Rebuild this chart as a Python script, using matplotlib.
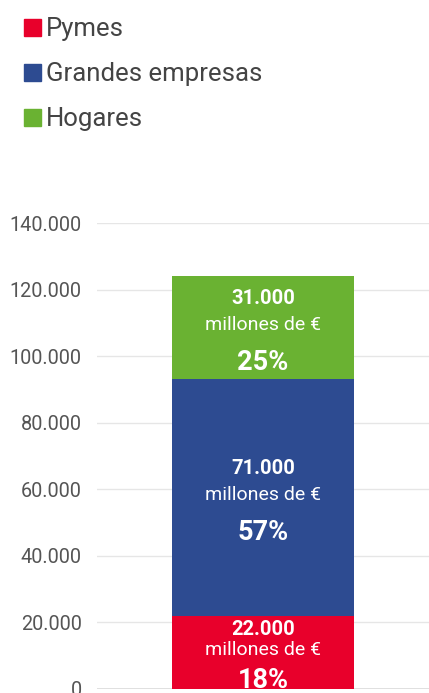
import matplotlib.pyplot as plt
from matplotlib.patches import Patch

plt.rcParams['font.family'] = ['Roboto', 'DejaVu Sans']

segments = ['Pymes', 'Grandes empresas', 'Hogares']
values = [22000, 71000, 31000]
value_labels = ['22.000', '71.000', '31.000']
pct_labels = ['18%', '57%', '25%']
colors = ['#E8002B', '#2D4B91', '#6AB232']
yticks = [0, 20000, 40000, 60000, 80000, 100000, 120000, 140000]
ytick_labels = ['0', '20.000', '40.000', '60.000', '80.000', '100.000', '120.000', '140.000']

fig = plt.figure(figsize=(4.29, 6.93), dpi=100)
ax = fig.add_axes([97/429, 4/693, 332/429, 466/693])

bottom = 0
for seg, v, vl, pl, c in zip(segments, values, value_labels, pct_labels, colors):
    ax.bar(0, v, bottom=bottom, width=0.551, color=c, zorder=3)
    mid = bottom + v / 2
    # small segment gets its lines a bit closer together
    k = 0.8 if v < 30000 else 1.0
    ax.annotate(vl, (0, mid), xytext=(0, 21 * k), textcoords='offset points',
                ha='center', va='center', color='white', fontsize=14.5, fontweight='bold', zorder=4)
    ax.annotate('millones de €', (0, mid), xytext=(0, 2 * k), textcoords='offset points',
                ha='center', va='center', color='white', fontsize=14, zorder=4)
    ax.annotate(pl, (0, mid), xytext=(0, -25 * k), textcoords='offset points',
                ha='center', va='center', color='white', fontsize=19.5, fontweight='bold', zorder=4)
    bottom += v

ax.set_xlim(-0.5, 0.5)
ax.set_ylim(0, 140000)
ax.set_yticks(yticks)
ax.set_yticklabels(ytick_labels, fontsize=14.3, color='#555555')
ax.set_xticks([])
ax.tick_params(axis='y', length=0, pad=11)
ax.grid(axis='y', color='#e6e6e6', linewidth=1, zorder=0)
for s in ax.spines.values():
    s.set_visible(False)
ax.axhline(0, color='#dddddd', linewidth=2, zorder=2)

handles = [Patch(color=c) for c in colors]
fig.legend(handles, segments, loc='upper left', bbox_to_anchor=(0.016, 1.0),
           frameon=False, fontsize=18.5, handlelength=0.65, handleheight=0.65,
           handletextpad=0.2, labelspacing=0.82, labelcolor='#444444', borderaxespad=0.27)

fig.savefig('out.png', dpi=100)
